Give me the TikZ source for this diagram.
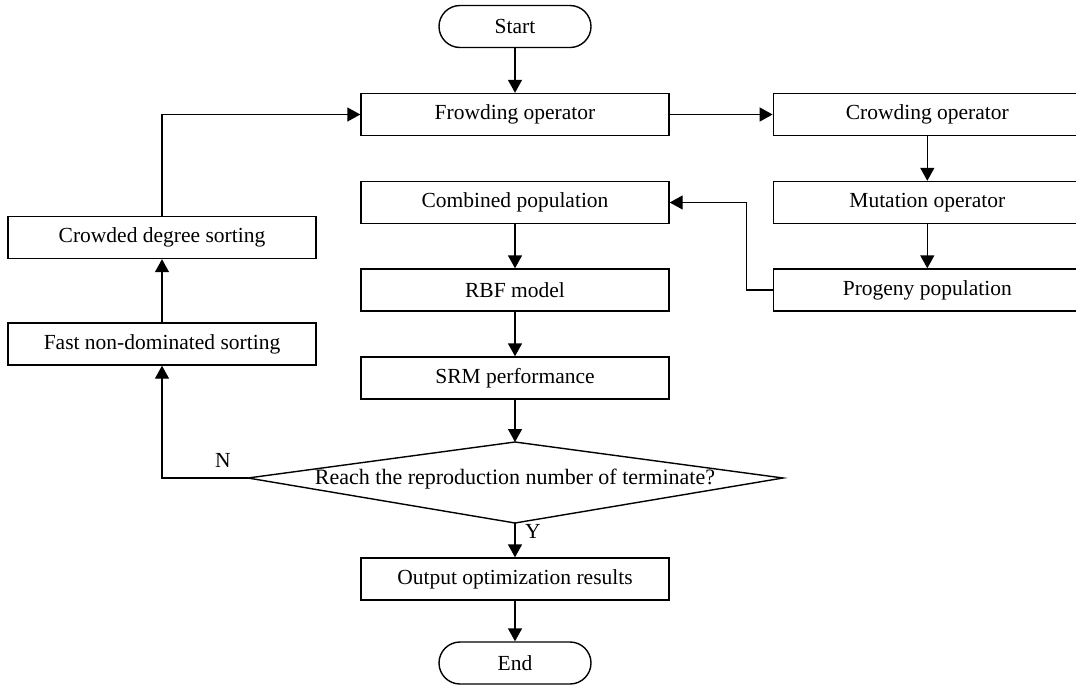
\documentclass[tikz,border=0pt]{standalone}
\usepackage{fontspec}
\setmainfont{Liberation Serif}
\usetikzlibrary{arrows.meta}
\begin{document}
\begin{tikzpicture}[x=1pt,y=-1pt,
  every node/.style={font=\fontsize{21.5}{24}\selectfont},
  box/.style={draw,line width=1.4pt,minimum width=308pt,minimum height=42pt,inner sep=0pt,anchor=center},
  term/.style={draw,line width=1.4pt,minimum width=152pt,minimum height=42pt,inner sep=0pt,rounded corners=21pt},
  conn/.style={line width=1.4pt,-{Triangle[length=13pt,width=14pt]}},
  plain/.style={line width=1.4pt},
  lbl/.style={inner sep=0pt}]
\useasboundingbox (0,0) rectangle (1076,686);
\clip (0,0) rectangle (1076,686);
% nodes
\node[term] (start) at (515,26.5) {Start};
\node[box] (frow) at (515,114.5) {Frowding operator};
\node[box] (crow) at (927.3,114.5) {Crowding operator};
\node[box] (comb) at (515,202.5) {Combined population};
\node[box] (mut) at (927.3,202.5) {Mutation operator};
\node[box] (cds) at (162,237.5) {Crowded degree sorting};
\node[box] (rbf) at (515,290) {RBF model};
\node[box] (prog) at (927.3,290) {Progeny population};
\node[box] (fast) at (162,344) {Fast non-dominated sorting};
\node[box] (srm) at (515,378) {SRM performance};
% decision
\coordinate (dtop) at (515,442);
\coordinate (dright) at (783,478);
\coordinate (dbot) at (515,523);
\coordinate (dleft) at (248,478);
\draw[plain,line join=miter] (dtop) -- (dright) -- (dbot) -- (dleft) -- cycle;
\node[lbl,font=\fontsize{22}{24}\selectfont] (dec) at (515,479) {Reach the reproduction number of terminate?};
\node[box] (out) at (515,579) {Output optimization results};
\node[term] (end) at (515,663) {End};
% connectors
\draw[conn] (start) -- (frow);
\draw[conn] (frow) -- (crow);
\draw[conn] (crow) -- (mut);
\draw[conn] (mut) -- (prog);
\coordinate (pbend) at (746.7,290);
\draw[conn] (prog.west) -- (pbend) |- (comb.east);
\draw[conn] (comb) -- (rbf);
\draw[conn] (rbf) -- (srm);
\draw[conn] (srm) -- (dtop);
\draw[conn] (dbot) -- (out);
\node[lbl] (ylab) at (533,531) {Y};
\draw[conn] (out) -- (end);
\coordinate (nbend) at (162,478);
\draw[conn] (dleft) -- (nbend) -- (fast.south);
\node[lbl] (nlab) at (223,460) {N};
\draw[conn] (fast) -- (cds);
\draw[conn] (cds.north) |- (frow.west);
\end{tikzpicture}
\end{document}
